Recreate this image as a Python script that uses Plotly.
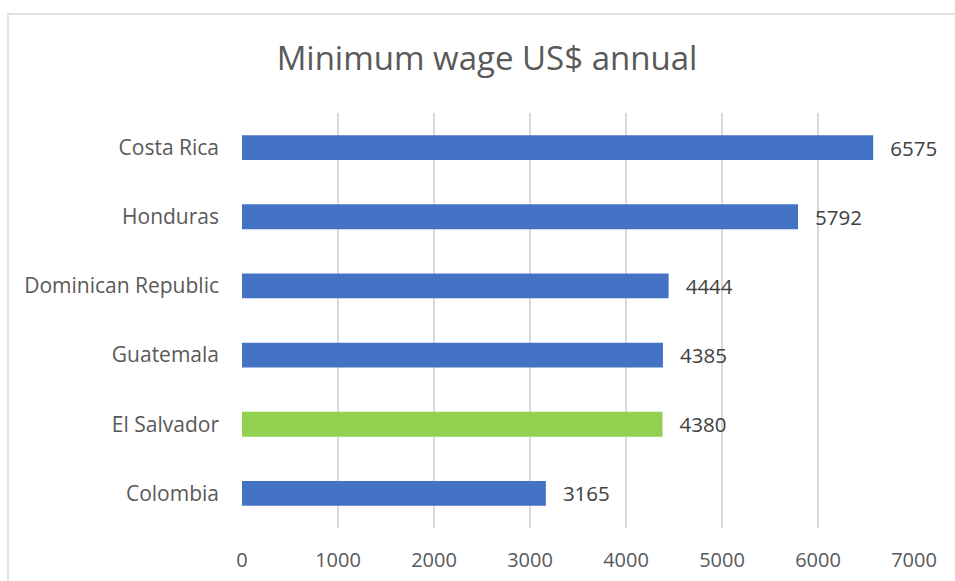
import plotly.graph_objects as go

# Annual minimum wage by country, in US dollars
countries = ["Colombia", "El Salvador", "Guatemala", "Dominican Republic", "Honduras", "Costa Rica"]
wages = [3165, 4380, 4385, 4444, 5792, 6575]
highlight = "El Salvador"
x_ticks = [0, 1000, 2000, 3000, 4000, 5000, 6000, 7000]

BLUE = "#4472C4"
GREEN = "#92D050"
TEXT = "#595959"
FONT = "Open Sans"

bar_colors = [GREEN if c == highlight else BLUE for c in countries]

# value labels sit a little way past the end of each bar
label_pad = "\u00a0\u00a0\u2009"

fig = go.Figure(
    go.Bar(
        x=wages,
        y=countries,
        orientation="h",
        marker=dict(color=bar_colors, line=dict(width=0)),
        text=[label_pad + str(v) for v in wages],
        textposition="outside",
        constraintext="none",
        cliponaxis=False,
        textfont=dict(family=FONT, size=20.5, color="#404040"),
        width=0.36,
    )
)

fig.update_layout(
    width=955,
    height=581,
    margin=dict(l=242, r=41, t=113, b=53, autoexpand=False),
    paper_bgcolor="white",
    plot_bgcolor="white",
    showlegend=False,
    title=dict(
        text="Minimum wage US$ annual",
        font=dict(family=FONT, size=33, color=TEXT),
        x=487 / 955,
        xanchor="center",
        xref="container",
        y=1 - 58 / 581,
        yanchor="middle",
    ),
    xaxis=dict(
        range=[0, 7000],
        tickvals=x_ticks,
        ticktext=[str(v) for v in x_ticks],
        showgrid=True,
        gridcolor="#D9D9D9",
        gridwidth=2,
        zeroline=False,
        showline=False,
        ticks="",
        tickfont=dict(family=FONT, size=20, color=TEXT),
        ticklabelstandoff=18,
        automargin=False,
    ),
    yaxis=dict(
        showgrid=False,
        showline=False,
        ticks="",
        tickfont=dict(family=FONT, size=21, color=TEXT),
        ticklabelstandoff=22,
        automargin=False,
    ),
    shapes=[
        dict(
            type="rect",
            xref="paper",
            yref="paper",
            x0=(8 - 242) / (955 - 242 - 41),
            x1=(965 - 242) / (955 - 242 - 41),
            y0=-(600 - 528) / (528 - 113),
            y1=(113 - 14) / (528 - 113) + 1,
            line=dict(color="#D9D9D9", width=1.5),
            fillcolor="rgba(0,0,0,0)",
            layer="below",
        )
    ],
)

fig.write_html("out.html")
